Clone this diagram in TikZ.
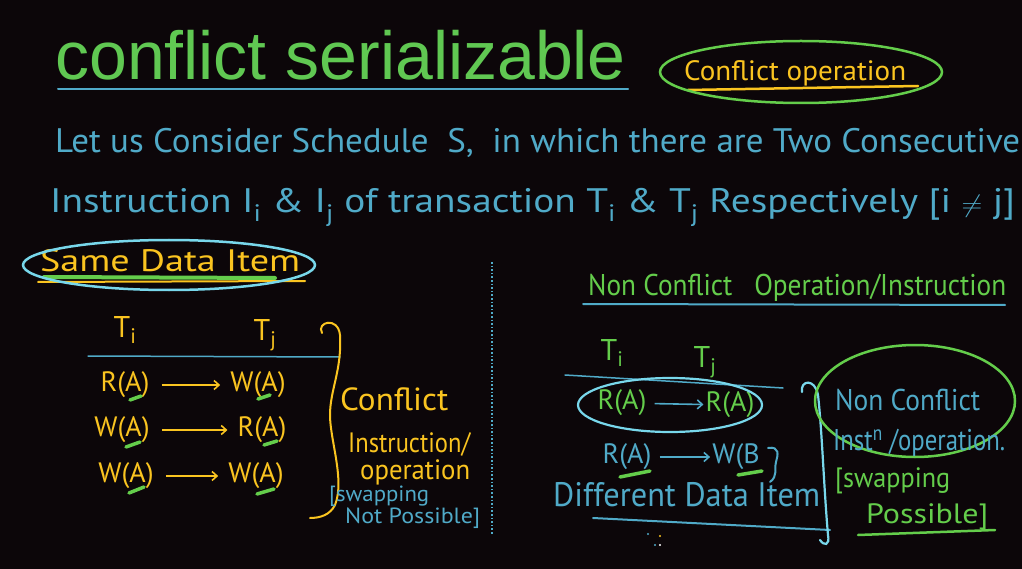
\documentclass[tikz,border=0pt]{standalone}
\usepackage{fontspec}
\setmainfont{Liberation Sans}
\newfontfamily\hand{PT Sans}
\usetikzlibrary{arrows.meta}
\definecolor{bg}{RGB}{12,6,9}
\definecolor{tgreen}{RGB}{96,200,82}
\definecolor{hcyan}{RGB}{80,170,200}
\definecolor{bcyan}{RGB}{120,215,235}
\definecolor{hyel}{RGB}{250,196,32}
\definecolor{hgreen}{RGB}{100,205,75}
\newcommand\wfit[2]{\resizebox{#1pt}{\height}{#2}}
\begin{document}
\begin{tikzpicture}[x=1pt,y=-1pt,
  txt/.style={inner sep=0pt,font=\hand\fontsize{#1}{#1}\selectfont},
  yt/.style={txt=#1,text=hyel},
  ct/.style={txt=#1,text=hcyan},
  gt/.style={txt=#1,text=hgreen},
  bw/.style={anchor=base west},
  amark/.style={hgreen,line width=3.5pt,line cap=round},
  arr/.style={-{Straight Barb[length=5pt,width=9pt]},line width=1.6pt,shorten <=12pt,shorten >=10pt},
  stroke/.style={line width=#1,line cap=round}]
\fill[bg] (0,0) rectangle (1022,569);
\useasboundingbox (0,0) rectangle (1022,569);

% title
\node[anchor=base west,inner sep=0pt,text=tgreen,font=\fontsize{68}{70}\selectfont] (title) at (55,80) {conflict serializable};
\draw[hcyan,stroke=2pt] (58,89) -- (628,89);
\node[yt=28,bw] (cop) at (684,81) {\wfit{222}{Conflict operation}};
\draw[hyel,stroke=2.5pt] (688,90) -- (918,86);
\draw[hgreen,line width=2.5pt] (801,72) ellipse [x radius=141, y radius=31];

% intro lines
\node[ct=34,bw] (l1) at (55,153) {\wfit{965}{Let us Consider Schedule\ \ S,\ \ in which there are Two Consecutive}};
\node[ct=34,bw] (l2) at (50,213) {\wfit{965}{Instruction I\textsubscript{i} \& I\textsubscript{j} of transaction T\textsubscript{i} \& T\textsubscript{j} Respectively [i $\neq$ j]}};

% left: same data item
\node[yt=31,bw] (sdi) at (40,272) {\wfit{260}{Same Data Item}};
\draw[hgreen,stroke=4pt] (44,277) -- (275,278);
\draw[hyel,stroke=2pt] (38,282) -- (305,281);
\draw[bcyan,line width=2.5pt] (169,265) ellipse [x radius=146, y radius=25];

\draw[hcyan,dotted,line width=1.6pt] (492,262) -- (492,535);

\node[yt=30] (ti1) at (125,330) {T\textsubscript{i}};
\node[yt=30] (tj1) at (265,335) {T\textsubscript{j}};
\draw[hcyan,stroke=1.5pt] (88,356) -- (340,357);

\node[yt=28] (a1) at (125,385) {R(A)};
\node[yt=28] (b1) at (258,385) {W(A)};
\node[yt=28] (a2) at (122,430) {W(A)};
\node[yt=28] (b2) at (262,430) {R(A)};
\node[yt=28] (a3) at (126,476) {W(A)};
\node[yt=28] (b3) at (256,476) {W(A)};
\draw[hyel,arr] (a1) -- (b1);
\draw[hyel,arr] (a2) -- (b2);
\draw[hyel,arr] (a3) -- (b3);
\draw[amark] (130,400) -- (141,396);
\draw[amark] (258,399) -- (270,395);
\draw[amark] (126,447) -- (140,442);
\draw[amark] (264,445) -- (277,441);
\draw[amark] (129,493) -- (144,487);
\draw[amark] (257,494) -- (274,489);

\draw[hyel,stroke=2pt] (322,333) .. controls (316,322) and (338,316) .. (340,335)
  .. controls (342,370) and (330,390) .. (330,415)
  .. controls (330,440) and (345,480) .. (335,505)
  .. controls (330,515) and (320,518) .. (310,518);
\node[yt=32,bw] (c1) at (340,410) {\wfit{108}{Conflict}};
\node[yt=28,bw] (c2) at (348,452) {\wfit{122}{Instruction/}};
\node[yt=28,bw] (c3) at (360,479) {\wfit{110}{operation}};
\node[ct=22,bw] (c4) at (329,501) {\wfit{100}{[swapping}};
\node[ct=22,bw] (c5) at (345,523) {\wfit{135}{Not Possible]}};

% right: non conflict
\node[gt=30,bw] (nco) at (588,296) {\wfit{418}{Non Conflict\ \ \ Operation/Instruction}};
\draw[hcyan,stroke=2pt] (583,304) -- (1005,305);
\node[gt=30] (ti2) at (612,353) {T\textsubscript{i}};
\node[gt=30] (tj2) at (705,362) {T\textsubscript{j}};
\draw[hcyan,stroke=1.5pt] (565,375) -- (783,388);
\node[gt=28] (d1) at (622,403) {R(A)};
\node[gt=28] (e1) at (730,405) {R(A)};
\draw[hcyan,arr,shorten <=8pt,shorten >=2pt] (d1) -- (e1);
\draw[bcyan,line width=2.2pt] (670,405) ellipse [x radius=92, y radius=27];
\node[ct=28] (d2) at (627,457) {R(A)};
\node[ct=28] (e2) at (736,457) {W(B};
\draw[hcyan,arr,shorten <=8pt,shorten >=2pt] (d2) -- (e2);
\draw[hcyan,stroke=2pt] (768,448) .. controls (780,446) and (778,455) .. (776,462) .. controls (774,470) and (778,476) .. (770,482);
\draw[amark] (620,477) -- (650,471);
\draw[amark] (738,475) -- (762,471);
\node[ct=34,bw] (ddi) at (553,506) {\wfit{267}{Different Data Item}};
\draw[hcyan,stroke=2pt] (593,518) -- (830,530);
\draw[bcyan,stroke=2.2pt] (802,392) .. controls (800,380) and (815,378) .. (818,395)
  .. controls (822,430) and (824,490) .. (828,535)
  .. controls (830,546) and (824,546) .. (820,540);
\draw[hgreen,line width=2.5pt] (915,401) ellipse [x radius=100, y radius=56];
\node[ct=30,bw] (nc1) at (835,410) {\wfit{145}{Non Conflict}};
\node[ct=30,bw] (nc2) at (833,450) {\wfit{172}{Inst\textsuperscript{n} /operation.}};
\node[gt=28,bw] (sw1) at (835,487) {\wfit{115}{[swapping}};
\node[gt=28,bw] (sw2) at (866,523) {\wfit{122}{Possible]}};
\draw[hgreen,stroke=2.5pt] (858,535) -- (995,530);
\fill[hcyan] (648,534) circle (1.2pt) (655,545) circle (1.2pt);
\fill[hyel] (660,536) circle (1.2pt);
\fill[white] (660,545) circle (1.2pt);
\end{tikzpicture}
\end{document}
